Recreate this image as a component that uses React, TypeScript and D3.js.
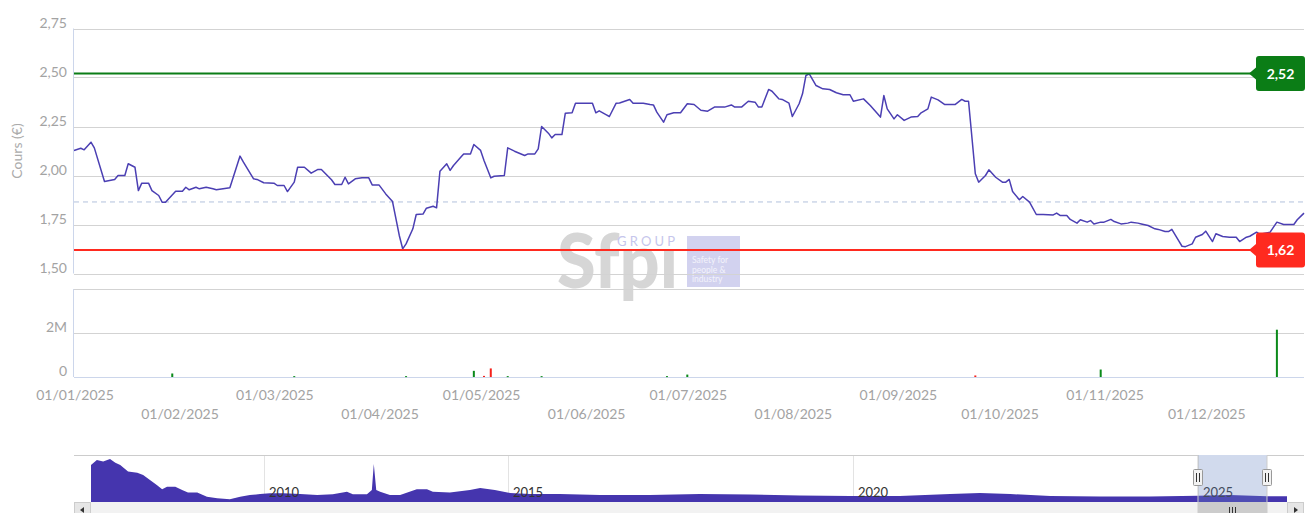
import React, { useEffect, useRef } from "react";
import * as d3 from "d3";

const WIDTH = 1307;
const HEIGHT = 513;
const FONT = "Lato, 'Open Sans', sans-serif";

// [days since 01/01/2025, closing price in €]
const prices: [number, number][] = [
  [0, 2.128], [2, 2.139], [3, 2.131], [5, 2.17], [6, 2.141], [9, 1.969], [12, 1.98], [13, 2.0],
  [15, 2.0], [16, 2.06], [18, 2.042], [19, 1.923], [20, 1.961], [22, 1.961], [23, 1.923], [25, 1.898],
  [26, 1.864], [27, 1.864], [30, 1.92], [32, 1.92], [33, 1.94], [34, 1.927], [36, 1.94], [37, 1.932],
  [39, 1.94], [41, 1.932], [42, 1.927], [44, 1.932], [46, 1.937], [49, 2.099], [50, 2.068], [53, 1.983],
  [54, 1.98], [56, 1.963], [59, 1.961], [60, 1.949], [62, 1.949], [63, 1.918], [65, 1.966], [66, 2.042],
  [68, 2.042], [70, 2.012], [72, 2.031], [73, 2.031], [76, 1.978], [77, 1.954], [79, 1.954], [80, 1.991],
  [81, 1.957], [83, 1.983], [85, 1.988], [87, 1.988], [88, 1.952], [90, 1.952], [92, 1.906], [94, 1.867],
  [96, 1.694], [97, 1.626], [98, 1.651], [100, 1.728], [101, 1.801], [103, 1.803], [104, 1.833], [106, 1.843],
  [107, 1.835], [108, 2.022], [110, 2.06], [111, 2.026], [112, 2.051], [114, 2.09], [115, 2.11], [117, 2.11],
  [118, 2.158], [120, 2.128], [121, 2.077], [123, 1.988], [124, 1.996], [127, 2.0], [128, 2.141], [130, 2.124],
  [133, 2.102], [134, 2.11], [136, 2.11], [137, 2.136], [138, 2.25], [140, 2.216], [141, 2.192], [142, 2.209],
  [144, 2.209], [145, 2.318], [147, 2.32], [148, 2.369], [150, 2.369], [153, 2.369], [154, 2.32], [155, 2.33],
  [157, 2.311], [158, 2.301], [160, 2.369], [161, 2.37], [164, 2.388], [165, 2.369], [168, 2.369], [170, 2.362],
  [171, 2.36], [172, 2.323], [174, 2.272], [175, 2.31], [177, 2.32], [179, 2.32], [181, 2.366], [183, 2.362],
  [185, 2.333], [187, 2.328], [189, 2.349], [192, 2.349], [194, 2.36], [195, 2.349], [197, 2.349], [199, 2.379],
  [201, 2.374], [202, 2.349], [203, 2.349], [205, 2.439], [206, 2.43], [208, 2.391], [209, 2.388], [211, 2.369],
  [212, 2.301], [214, 2.366], [215, 2.417], [216, 2.51], [217, 2.519], [219, 2.459], [221, 2.442], [223, 2.439],
  [225, 2.422], [227, 2.412], [229, 2.412], [230, 2.379], [233, 2.391], [235, 2.357], [238, 2.298], [239, 2.408],
  [240, 2.34], [242, 2.289], [243, 2.31], [245, 2.281], [247, 2.298], [249, 2.301], [250, 2.32], [252, 2.34],
  [253, 2.4], [255, 2.386], [257, 2.362], [260, 2.362], [262, 2.388], [263, 2.379], [264, 2.379], [266, 2.009],
  [267, 1.966], [269, 2.0], [270, 2.029], [272, 1.991], [274, 1.966], [275, 1.966], [276, 1.98], [277, 1.918],
  [279, 1.876], [280, 1.893], [282, 1.864], [284, 1.801], [286, 1.801], [289, 1.799], [290, 1.808], [291, 1.796],
  [293, 1.796], [294, 1.776], [296, 1.757], [297, 1.774], [299, 1.762], [300, 1.77], [301, 1.753], [303, 1.762],
  [304, 1.762], [306, 1.776], [307, 1.765], [309, 1.753], [311, 1.757], [312, 1.762], [314, 1.757], [315, 1.753],
  [317, 1.745], [319, 1.728], [320, 1.725], [322, 1.714], [323, 1.714], [324, 1.725], [326, 1.668], [327, 1.639],
  [328, 1.637], [330, 1.651], [331, 1.685], [333, 1.699], [334, 1.716], [336, 1.663], [337, 1.703], [339, 1.689],
  [341, 1.685], [343, 1.685], [344, 1.663], [346, 1.685], [347, 1.69], [349, 1.711], [350, 1.7], [353, 1.711],
  [355, 1.762], [357, 1.75], [360, 1.75], [361, 1.774], [363, 1.808],
];

const highPrice = 2.52;
const lowPrice = 1.62;
const averagePrice = 1.865;

// visible volume bars: day since 01/01/2025, volume, price up?
const volumes = [
  { day: 29, volume: 160000, up: true },
  { day: 65, volume: 40000, up: true },
  { day: 98, volume: 40000, up: true },
  { day: 118, volume: 280000, up: true },
  { day: 121, volume: 50000, up: false },
  { day: 123, volume: 390000, up: false },
  { day: 128, volume: 40000, up: true },
  { day: 138, volume: 40000, up: true },
  { day: 175, volume: 40000, up: true },
  { day: 181, volume: 110000, up: true },
  { day: 266, volume: 70000, up: false },
  { day: 303, volume: 340000, up: true },
  { day: 355, volume: 2150000, up: true },
];

const priceTicks = [1.5, 1.75, 2, 2.25, 2.5, 2.75];
const volumeTicks = [0, 2000000, 4000000];
const volumeTickLabels = ["0", "2M", ""];

// navigator history: [decimal year, close €]
const history: [number, number][] = [
  [2006.45, 11.8], [2006.57, 13.4], [2006.7, 12.9], [2006.84, 13.7], [2006.95, 12.5], [2007.05, 11.8],
  [2007.21, 9.7], [2007.4, 9.35], [2007.52, 8.6], [2007.66, 7.0], [2007.8, 5.4], [2007.91, 4.05],
  [2008.01, 4.9], [2008.18, 4.9], [2008.32, 3.8], [2008.44, 3.0], [2008.63, 3.0], [2008.83, 1.7],
  [2009.04, 1.2], [2009.3, 0.9], [2009.51, 1.7], [2009.71, 2.2], [2009.92, 2.55], [2010.12, 2.8],
  [2010.39, 2.8], [2010.74, 2.55], [2011.09, 2.2], [2011.41, 2.45], [2011.7, 3.3], [2011.82, 2.45],
  [2012.11, 2.45], [2012.21, 3.8], [2012.25, 12.1], [2012.3, 3.8], [2012.38, 3.3], [2012.58, 2.2],
  [2012.79, 2.2], [2013.13, 4.05], [2013.34, 4.05], [2013.46, 3.3], [2013.81, 3.0], [2014.22, 3.8],
  [2014.43, 4.5], [2014.73, 3.8], [2015.03, 2.9], [2015.32, 2.55], [2015.75, 2.55], [2016.33, 2.2],
  [2017.06, 2.2], [2017.78, 2.55], [2018.51, 2.4], [2019.23, 2.1], [2019.96, 1.9], [2020.68, 1.9],
  [2021.41, 2.55], [2021.84, 2.9], [2022.28, 2.55], [2022.86, 1.9], [2023.58, 1.75], [2024.3, 1.75],
  [2025.0, 2.0], [2025.46, 2.2], [2026.0, 1.8], [2026.29, 1.8],
];
const navYears = [2010, 2015, 2020, 2025];
const selectedYears: [number, number] = [2025, 2026];

const frLocale = d3.formatLocale({ decimal: ",", thousands: " ", grouping: [3], currency: ["", " €"] });
const fmtPrice = frLocale.format(".2f");

const day0 = new Date(2025, 0, 1);
const toDate = (d: number) => d3.timeDay.offset(day0, d);

function calloutPath(left: number, right: number, y: number, half: number) {
  const top = y - half;
  const bottom = y + half;
  const r = 3;
  return `M${left + r},${top} L${right - r},${top} Q${right},${top} ${right},${top + r}
    L${right},${bottom - r} Q${right},${bottom} ${right - r},${bottom} L${left + r},${bottom}
    Q${left},${bottom} ${left},${bottom - r} L${left},${y + 6} L${left - 7},${y} L${left},${y - 6}
    L${left},${top + r} Q${left},${top} ${left + r},${top} Z`;
}

const App: React.FC = () => {
  const svgRef = useRef<SVGSVGElement>(null);

  useEffect(() => {
    if (!svgRef.current) return;
    const svg = d3.select(svgRef.current);
    svg.selectAll("*").remove();

    const left = 74;
    const right = 1304;

    const x = d3.scaleTime().domain([day0, toDate(363)]).range([left, right]);
    const y = d3.scaleLinear().domain([1.5, 2.75]).range([273.5, 28.5]);
    const yVol = d3.scaleLinear().domain([0, 4000000]).range([377, 289]);

    // watermark (logo), the "i" dot is clipped so it stays under "GROUP"
    const defs = svg.append("defs");
    defs.append("clipPath")
      .attr("id", "logo-clip")
      .append("path")
      .attr("d", "M540,200 L655,200 L655,251 L690,251 L690,320 L540,320 Z");
    const wm = svg.append("g");
    wm.append("text")
      .attr("x", 557).attr("y", 288)
      .attr("clip-path", "url(#logo-clip)")
      .attr("font-family", FONT).attr("font-weight", 900).attr("font-size", 76)
      .attr("textLength", 121).attr("lengthAdjust", "spacingAndGlyphs")
      .attr("fill", "#d6d6d6")
      .text("Sfpi");
    wm.append("text")
      .attr("x", 617).attr("y", 246)
      .attr("font-family", FONT).attr("font-size", 13)
      .attr("textLength", 58).attr("lengthAdjust", "spacing")
      .attr("fill", "#c6c6ec")
      .text("GROUP");
    wm.append("rect")
      .attr("x", 687).attr("y", 236).attr("width", 53).attr("height", 51)
      .attr("fill", "#d2d2ef");
    ["Safety for", "people &", "industry"].forEach((t, i) => {
      wm.append("text")
        .attr("x", 692).attr("y", 263 + i * 9.7)
        .attr("font-family", FONT).attr("font-size", 8.5)
        .attr("fill", "#f2f2fb")
        .text(t);
    });

    // price grid
    const grid = svg.append("g");
    priceTicks.forEach((t) => {
      grid.append("line")
        .attr("x1", left).attr("x2", right)
        .attr("y1", Math.round(y(t)) + 0.5).attr("y2", Math.round(y(t)) + 0.5)
        .attr("stroke", "#d3d3d3");
      grid.append("text")
        .attr("x", 67).attr("y", y(t) - 1)
        .attr("text-anchor", "end")
        .attr("font-family", FONT).attr("font-size", 14)
        .attr("fill", "#a3a3a3")
        .text(fmtPrice(t));
    });

    svg.append("text")
      .attr("transform", `translate(22,151) rotate(-90)`)
      .attr("text-anchor", "middle")
      .attr("font-family", FONT).attr("font-size", 14)
      .attr("fill", "#ababab")
      .text("Cours (€)");

    // average dashed line
    svg.append("line")
      .attr("x1", left).attr("x2", right)
      .attr("y1", y(averagePrice)).attr("y2", y(averagePrice))
      .attr("stroke", "#b3c1dc").attr("stroke-dasharray", "5,4");

    // price line
    const line = d3.line<[number, number]>()
      .x((d) => x(toDate(d[0])))
      .y((d) => y(d[1]));
    svg.append("path")
      .datum(prices)
      .attr("fill", "none")
      .attr("stroke", "#4b3fb3")
      .attr("stroke-width", 1.5)
      .attr("stroke-linejoin", "round")
      .attr("d", line);

    // high / low lines
    svg.append("line")
      .attr("x1", left).attr("x2", right)
      .attr("y1", y(highPrice)).attr("y2", y(highPrice))
      .attr("stroke", "#0b7d16").attr("stroke-width", 2);
    svg.append("line")
      .attr("x1", left).attr("x2", right)
      .attr("y1", y(lowPrice)).attr("y2", y(lowPrice))
      .attr("stroke", "#ff2a1f").attr("stroke-width", 2);

    // left axis line
    svg.append("line")
      .attr("x1", left - 0.5).attr("x2", left - 0.5)
      .attr("y1", y(2.75)).attr("y2", y(1.5))
      .attr("stroke", "#ccd6eb");

    // callouts
    [
      { v: highPrice, color: "#0b7d16" },
      { v: lowPrice, color: "#ff2a1f" },
    ].forEach(({ v, color }) => {
      const cy = y(v);
      svg.append("path")
        .attr("d", calloutPath(1256, 1305, cy, 17.5))
        .attr("fill", color);
      svg.append("text")
        .attr("x", 1280.5).attr("y", cy + 5)
        .attr("text-anchor", "middle")
        .attr("font-family", FONT).attr("font-size", 14).attr("font-weight", 700)
        .attr("fill", "#ffffff")
        .text(fmtPrice(v));
    });

    // volume panel
    volumeTicks.forEach((t, i) => {
      const yy = Math.round(yVol(t)) + 0.5;
      svg.append("line")
        .attr("x1", left).attr("x2", right)
        .attr("y1", yy).attr("y2", yy)
        .attr("stroke", t === 0 ? "#ccd6eb" : "#d3d3d3");
      if (volumeTickLabels[i]) {
        svg.append("text")
          .attr("x", 67).attr("y", yVol(t) - 1.5)
          .attr("text-anchor", "end")
          .attr("font-family", FONT).attr("font-size", 14)
          .attr("fill", "#a3a3a3")
          .text(volumeTickLabels[i]);
      }
    });
    svg.append("line")
      .attr("x1", left - 0.5).attr("x2", left - 0.5)
      .attr("y1", yVol(4000000)).attr("y2", yVol(0))
      .attr("stroke", "#ccd6eb");

    svg.append("g")
      .selectAll("rect")
      .data(volumes)
      .join("rect")
      .attr("x", (d) => x(toDate(d.day)) - 1)
      .attr("width", 2)
      .attr("y", (d) => yVol(d.volume))
      .attr("height", (d) => Math.max(1, yVol(0) - yVol(d.volume)))
      .attr("fill", (d) => (d.up ? "#0b8a1a" : "#f5221b"));

    // x labels (staggered)
    const months = d3.timeMonth.range(day0, toDate(364));
    const fmtDate = d3.timeFormat("%d/%m/%Y");
    months.forEach((m, i) => {
      svg.append("text")
        .attr("x", x(m) + 1)
        .attr("y", i % 2 === 0 ? 400 : 419)
        .attr("text-anchor", "middle")
        .attr("font-family", FONT).attr("font-size", 14)
        .attr("fill", "#a3a3a3")
        .text(fmtDate(m));
    });

    // navigator
    const navTop = 455;
    const navBottom = 502;
    const navX = d3.scaleLinear().domain([2006.45, 2010, 2015, 2026.29]).range([91, 264, 508, 1287]);
    const navY = d3.scaleLinear().domain([0, 15]).range([navBottom, navTop]);

    navYears.forEach((yr) => {
      svg.append("line")
        .attr("x1", Math.round(navX(yr)) + 0.5).attr("x2", Math.round(navX(yr)) + 0.5)
        .attr("y1", navTop).attr("y2", navBottom)
        .attr("stroke", "#e3e3e3");
    });

    const area = d3.area<[number, number]>()
      .x((d) => navX(d[0]))
      .y0(navBottom)
      .y1((d) => navY(d[1]));
    svg.append("path")
      .datum(history)
      .attr("fill", "#4535ae")
      .attr("d", area);

    navYears.forEach((yr) => {
      svg.append("text")
        .attr("x", navX(yr) + 5).attr("y", 497)
        .attr("font-family", FONT).attr("font-size", 13)
        .attr("fill", "#333333")
        .text(String(yr));
    });

    const m0 = navX(selectedYears[0]);
    const m1 = navX(selectedYears[1]);
    svg.append("rect")
      .attr("x", m0).attr("y", navTop).attr("width", m1 - m0).attr("height", navBottom - navTop)
      .attr("fill", "rgba(102,133,194,0.3)");
    svg.append("path")
      .attr("d", `M${left},${navTop + 0.5} L${m0},${navTop + 0.5} L${m0},${navBottom} M${m1},${navBottom} L${m1},${navTop + 0.5} L${right},${navTop + 0.5}`)
      .attr("fill", "none")
      .attr("stroke", "#cccccc");

    [m0, m1].forEach((hx) => {
      const hx0 = Math.round(hx) - 4.5;
      svg.append("rect")
        .attr("x", hx0).attr("y", 469.5).attr("width", 9).attr("height", 16)
        .attr("rx", 1)
        .attr("fill", "#f2f2f2").attr("stroke", "#999999");
      [3, 6].forEach((o) => {
        svg.append("line")
          .attr("x1", hx0 + o).attr("x2", hx0 + o)
          .attr("y1", 473).attr("y2", 482)
          .attr("stroke", "#333333");
      });
    });

    // scrollbar
    svg.append("rect")
      .attr("x", left).attr("y", navBottom).attr("width", right - left).attr("height", 14)
      .attr("fill", "#f2f2f2");
    svg.append("rect")
      .attr("x", left + 0.5).attr("y", navBottom + 0.5).attr("width", 16).attr("height", 14)
      .attr("fill", "#e6e6e6").attr("stroke", "#cccccc");
    svg.append("rect")
      .attr("x", right - 16.5).attr("y", navBottom + 0.5).attr("width", 16).attr("height", 14)
      .attr("fill", "#e6e6e6").attr("stroke", "#cccccc");
    svg.append("path")
      .attr("d", `M${left + 6},${navBottom + 8} L${left + 10},${navBottom + 5} L${left + 10},${navBottom + 11} Z`)
      .attr("fill", "#333333");
    svg.append("path")
      .attr("d", `M${right - 6},${navBottom + 8} L${right - 10},${navBottom + 5} L${right - 10},${navBottom + 11} Z`)
      .attr("fill", "#333333");
    svg.append("rect")
      .attr("x", m0).attr("y", navBottom + 0.5).attr("width", m1 - m0).attr("height", 14)
      .attr("fill", "#cccccc").attr("stroke", "#cccccc");
    const mid = Math.round((m0 + m1) / 2);
    [-3, 0, 3].forEach((o) => {
      svg.append("line")
        .attr("x1", mid + o + 0.5).attr("x2", mid + o + 0.5)
        .attr("y1", navBottom + 5).attr("y2", navBottom + 12)
        .attr("stroke", "#333333");
    });
  }, []);

  return (
    <svg
      ref={svgRef}
      width={WIDTH}
      height={HEIGHT}
      style={{ position: "absolute", left: 0, top: 0, background: "#ffffff" }}
    />
  );
};

export default App;
